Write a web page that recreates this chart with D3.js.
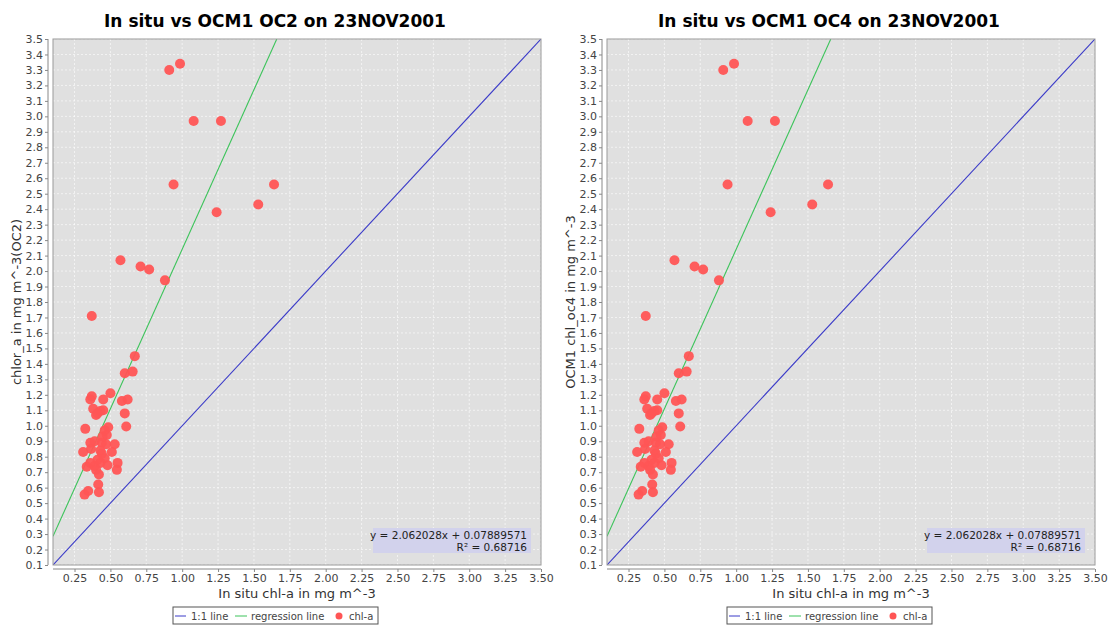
<!DOCTYPE html>
<html><head><meta charset="utf-8">
<script src="https://cdn.jsdelivr.net/npm/d3@7"></script>
<style>body{margin:0;background:#fff;}svg{display:block;font-family:"DejaVu Sans",sans-serif;}</style>
</head><body>
<svg id="c" width="1110" height="626"></svg>
<script>
const inSitu = [0.91,0.985,1.08,1.27,0.94,1.64,1.53,1.24,0.57,0.71,0.77,0.88,
  0.37,0.67,0.60,0.655,0.50,0.37,0.36,0.45,0.58,0.62,0.38,0.45,0.43,0.40,0.41,0.60,
  0.325,0.485,0.61,0.46,0.475,0.445,0.36,0.39,0.44,0.47,0.53,0.365,0.31,0.43,0.44,0.51,
  0.41,0.46,0.43,0.36,0.335,0.39,0.48,0.55,0.545,0.40,0.42,0.415,0.42,0.345,0.32];
const chlA = [3.30,3.34,2.97,2.97,2.56,2.56,2.43,2.38,2.07,2.03,2.01,1.94,
  1.71,1.45,1.34,1.35,1.21,1.19,1.17,1.17,1.16,1.17,1.11,1.10,1.095,1.07,1.08,1.08,
  0.98,0.99,0.995,0.97,0.94,0.93,0.89,0.90,0.89,0.88,0.88,0.85,0.83,0.84,0.82,0.83,
  0.78,0.79,0.76,0.76,0.735,0.74,0.745,0.76,0.715,0.715,0.685,0.62,0.57,0.578,0.555];
const xTicks = [0.25,0.5,0.75,1.0,1.25,1.5,1.75,2.0,2.25,2.5,2.75,3.0,3.25,3.5];
const yTicks = d3.range(1,36).map(i => i/10);
const slope = 2.062028, intercept = 0.07889571, r2 = "0.68716";
const panels = [
  {title:"In situ vs OCM1 OC2 on 23NOV2001", ylabel:"chlor_a in mg m^-3(OC2)"},
  {title:"In situ vs OCM1 OC4 on 23NOV2001", ylabel:"OCM1 chl_oc4 in mg m^-3"}
];
const svg = d3.select("#c");
const dom = [0.1,3.5];
panels.forEach((p,i)=>{
  const off = i*554;
  const L = 53+off, R = 541+off, T = 39, B = 565;
  const x = d3.scaleLinear().domain(dom).range([L,R]);
  const y = d3.scaleLinear().domain(dom).range([B,T]);
  const g = svg.append("g");
  const cid = "clip"+i;
  g.append("clipPath").attr("id",cid).append("rect").attr("x",L).attr("y",T).attr("width",R-L).attr("height",B-T);
  g.append("rect").attr("x",L).attr("y",T).attr("width",R-L).attr("height",B-T).attr("fill","#e0e0e0");
  // grid
  g.selectAll(".gx").data(xTicks).join("line").attr("x1",d=>x(d)).attr("x2",d=>x(d)).attr("y1",T).attr("y2",B)
    .attr("stroke","#fff").attr("stroke-width",0.6).attr("stroke-dasharray","2,2");
  g.selectAll(".gy").data(yTicks).join("line").attr("y1",d=>y(d)).attr("y2",d=>y(d)).attr("x1",L).attr("x2",R)
    .attr("stroke","#fff").attr("stroke-width",0.6).attr("stroke-dasharray","2,2");
  // axes
  const ya = g.append("g").attr("transform",`translate(${L-5},0)`).call(d3.axisLeft(y).tickValues(yTicks).tickFormat(d3.format(".1f")).tickSize(3).tickPadding(2));
  const xa = g.append("g").attr("transform",`translate(0,${B+4})`).call(d3.axisBottom(x).tickValues(xTicks).tickFormat(d3.format(".2f")).tickSize(3).tickPadding(2));
  [ya,xa].forEach(a=>{
    a.selectAll("path,line").attr("stroke","#888");
    a.selectAll("text").attr("fill","#444").style("font-size","11px").style("font-family","DejaVu Sans");
  });
  xa.select(".domain").attr("d",`M${L},0H${R}`);
  ya.select(".domain").attr("d",`M0,${T}V${B}`);
  // lines
  const lg = g.append("g").attr("clip-path",`url(#${cid})`);
  const line = d3.line().x(d=>x(d[0])).y(d=>y(d[1]));
  lg.append("path").attr("d",line(dom.map(v=>[v,v]))).attr("stroke","#3a3ac8").attr("stroke-width",1.1).attr("fill","none");
  const xEnd = (3.5-intercept)/slope;
  lg.append("path").attr("d",line([[0.1,slope*0.1+intercept],[xEnd,3.5]])).attr("stroke","#3cc35a").attr("stroke-width",1.1).attr("fill","none");
  // points
  lg.selectAll("circle").data(inSitu).join("circle").attr("cx",d=>x(d)).attr("cy",(d,j)=>y(chlA[j])).attr("r",5)
    .attr("fill","#ff5555").attr("fill-opacity",0.95);
  // border
  g.append("rect").attr("x",L).attr("y",T).attr("width",R-L).attr("height",B-T).attr("fill","none").attr("stroke","#999").attr("stroke-width",1);
  // regression box
  g.append("rect").attr("x",R-168).attr("y",528).attr("width",158).attr("height",25).attr("fill","#d2d2ec");
  g.append("text").attr("x",R-14).attr("y",539).attr("text-anchor","end").style("font-size","10.5px").attr("fill","#222")
    .text(`y = ${slope}x + ${intercept}`);
  g.append("text").attr("x",R-14).attr("y",551).attr("text-anchor","end").style("font-size","10.5px").attr("fill","#222")
    .text(`R² = ${r2}`);
  // title
  g.append("text").attr("x",(L+R)/2-22).attr("y",27).attr("text-anchor","middle").style("font-size","17px").style("font-weight","bold").attr("fill","#000").text(p.title);
  // axis labels
  g.append("text").attr("x",(L+R)/2).attr("y",598).attr("text-anchor","middle").style("font-size","13px").attr("fill","#333").text("In situ chl-a in mg m^-3");
  g.append("text").attr("transform",`translate(${21+off},302) rotate(-90)`).attr("text-anchor","middle").style("font-size","13px").attr("fill","#333").text(p.ylabel);
  // legend
  const lx = 173+off, ly = 607;
  g.append("rect").attr("x",lx).attr("y",ly).attr("width",205).attr("height",17).attr("fill","#fff").attr("stroke","#555");
  const ty = ly+12.5, fs = "10px";
  g.append("line").attr("x1",lx+2).attr("x2",lx+13).attr("y1",ly+9).attr("y2",ly+9).attr("stroke","#3a3ac8");
  g.append("text").attr("x",lx+18).attr("y",ty).style("font-size",fs).attr("fill","#444").text("1:1 line");
  g.append("line").attr("x1",lx+62).attr("x2",lx+74).attr("y1",ly+9).attr("y2",ly+9).attr("stroke","#3cc35a");
  g.append("text").attr("x",lx+78).attr("y",ty).style("font-size",fs).attr("fill","#444").text("regression line");
  g.append("circle").attr("cx",lx+166).attr("cy",ly+9).attr("r",3.5).attr("fill","#ff5555");
  g.append("text").attr("x",lx+176).attr("y",ty).style("font-size",fs).attr("fill","#444").text("chl-a");
});
</script>
</body></html>
